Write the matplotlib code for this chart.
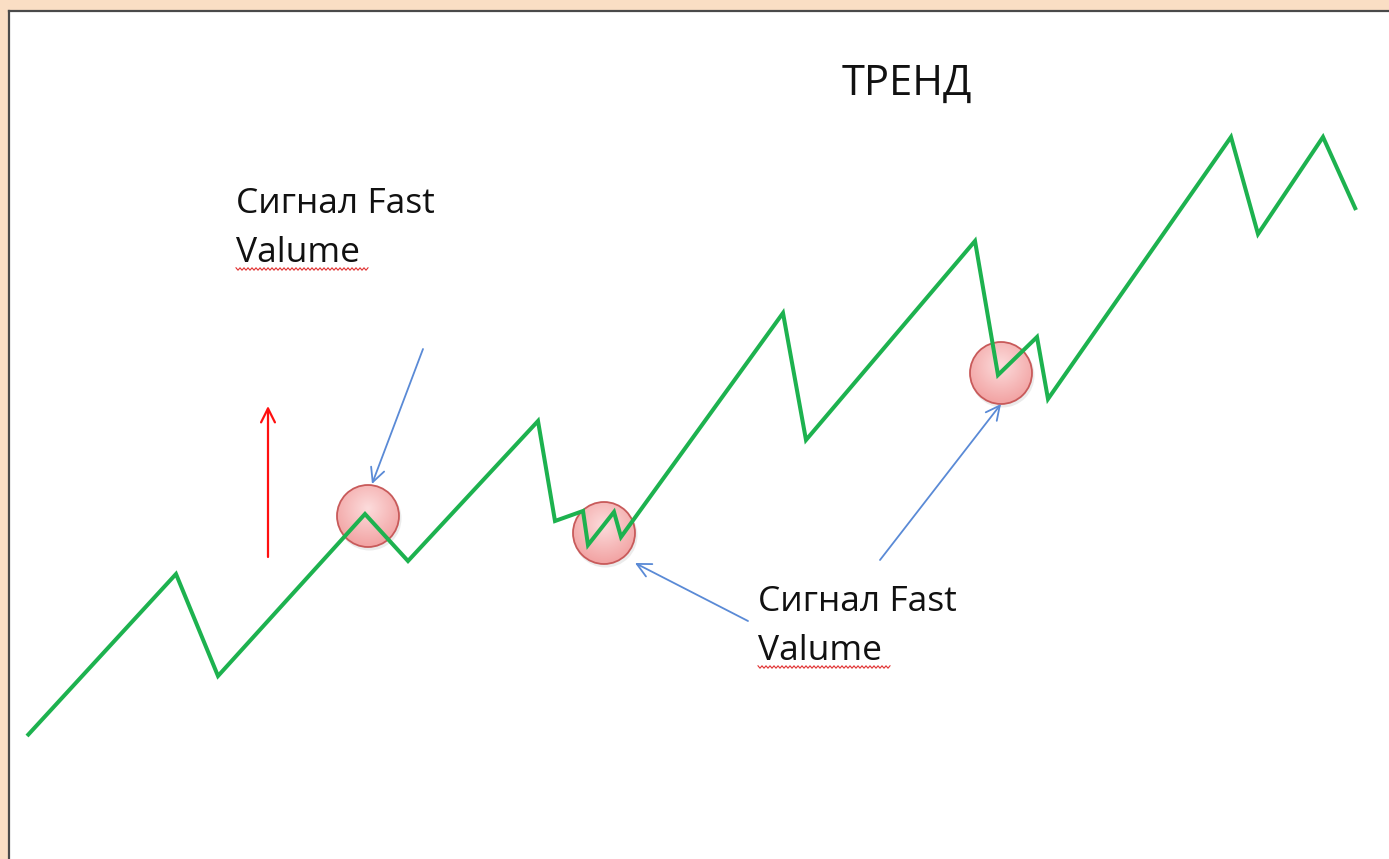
import numpy as np
import matplotlib
matplotlib.use("Agg")
import matplotlib.pyplot as plt
from matplotlib.patches import Circle, Rectangle
from matplotlib.colors import LinearSegmentedColormap

# zigzag price path (x, y in canvas units, y grows downward)
path_x = [27, 176, 218, 365, 408, 538, 555, 583, 588, 614, 621, 783, 806, 975, 998, 1037, 1048, 1231, 1258, 1323, 1356]
path_y = [736, 574, 676, 514, 561, 421, 521, 511, 545, 512, 537, 313, 440, 241, 375, 337, 399, 137, 234, 137, 210]

# signal circles
circle_x = [368, 604, 1001]
circle_y = [516, 533, 373]
circle_r = 31

# blue arrows: (start, end)
blue_arrows = [((423, 349), (372, 484)), ((748, 621), (635, 563)), ((880, 560), (1001, 404))]
red_arrow = ((268, 557), (268, 406))

title_text = "ТРЕНД"
signal_line1 = "Сигнал Fast"
signal_line2 = "Valume"
label_pos = [(236, 213), (758, 611)]

W, H = 1389, 859
fig = plt.figure(figsize=(W / 100, H / 100), dpi=100)
fig.patch.set_facecolor("#FADEC4")
ax = fig.add_axes([0, 0, 1, 1])
ax.set_xlim(0, W)
ax.set_ylim(H, 0)
ax.axis("off")

# white panel with dark left/top border
ax.add_patch(Rectangle((9, 11), W, H, facecolor="white", edgecolor="none", zorder=0))
ax.plot([9, 9], [11, H], color="#4a4a4a", lw=1.6, zorder=1)
ax.plot([9, W], [11, 11], color="#4a4a4a", lw=1.6, zorder=1)

# circles with radial-ish gradient
n = 80
yy, xx = np.mgrid[-1:1:n * 1j, -1:1:n * 1j]
rr = np.sqrt(xx ** 2 + (yy + 0.25) ** 2)
cmap = LinearSegmentedColormap.from_list("pk", ["#FCDCDC", "#F2A2A2"])
for cx, cy in zip(circle_x, circle_y):
    ax.add_patch(Circle((cx + 1.5, cy + 2.5), circle_r + 1, facecolor="#d8d8d8", edgecolor="none", alpha=0.5, zorder=2))
    im = ax.imshow(rr, cmap=cmap, vmin=0, vmax=1.25,
                   extent=(cx - circle_r, cx + circle_r, cy + circle_r, cy - circle_r),
                   aspect="auto", zorder=3, interpolation="bilinear")
    ax.add_patch(Circle((cx, cy), circle_r, facecolor="none", edgecolor="#C85A5A", lw=1.3, zorder=4))
    im.set_clip_path(Circle((cx, cy), circle_r, transform=ax.transData))

# zigzag
ax.plot(path_x, path_y, color="#1DB24F", lw=2.9, solid_joinstyle="miter", solid_capstyle="butt", zorder=5)

# arrows
for (s, e) in blue_arrows:
    ax.annotate("", xy=e, xytext=s,
                arrowprops=dict(arrowstyle="->,head_length=1.0,head_width=0.5", color="#5A8AD6", lw=1.3,
                                shrinkA=0, shrinkB=0), zorder=6)
ax.annotate("", xy=red_arrow[1], xytext=red_arrow[0],
            arrowprops=dict(arrowstyle="->,head_length=1.0,head_width=0.5", color="#FF1010", lw=1.6,
                            shrinkA=0, shrinkB=0), zorder=6)

font = ["Open Sans", "DejaVu Sans"]
ax.text(907, 95, title_text, fontsize=30, family=font, ha="center", va="baseline", color="#111111")
for (lx, ly) in label_pos:
    ax.text(lx, ly, signal_line1, fontsize=25.5, family=font, ha="left", va="baseline", color="#111111")
    ax.text(lx, ly + 49, signal_line2, fontsize=25.5, family=font, ha="left", va="baseline", color="#111111")
    # spell-check wavy underline
    wx = np.arange(lx, lx + 133, 2)
    wy = ly + 56 + np.where((np.arange(len(wx)) % 2) == 0, -1.2, 1.2)
    ax.plot(wx, wy, color="#E03030", lw=0.8, zorder=6)

fig.savefig("out.png", dpi=100, facecolor=fig.get_facecolor())
